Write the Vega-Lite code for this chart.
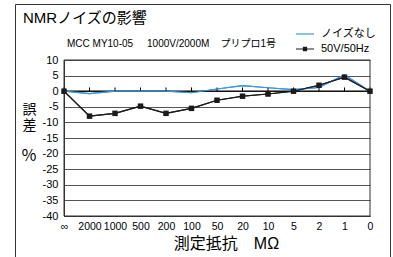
{
  "$schema": "https://vega.github.io/schema/vega-lite/v6.json",
  "width": 375,
  "height": 260,
  "autosize": {"type": "none"},
  "padding": {"left": 15, "top": 4, "right": 3, "bottom": 0},
  "background": "white",
  "config": {
    "view": {"stroke": "#333", "strokeWidth": 1},
    "font": "Liberation Sans, Noto Sans CJK JP",
    "axis": {"labelFont": "Liberation Sans, Noto Sans CJK JP", "titleFont": "Liberation Sans, Noto Sans CJK JP"},
    "legend": {"labelFont": "Liberation Sans, Noto Sans CJK JP"}
  },
  "title": {
    "text": "NMRノイズの影響",
    "anchor": "start",
    "frame": "group",
    "offset": -22,
    "dx": 8,
    "fontSize": 15,
    "fontWeight": "normal",
    "color": "black",
    "font": "Liberation Sans, Noto Sans CJK JP"
  },
  "datasets": {
    "main": [
      {"R": "∞", "series": "ノイズなし", "v": 0},
      {"R": "2000", "series": "ノイズなし", "v": -0.8},
      {"R": "1000", "series": "ノイズなし", "v": 0},
      {"R": "500", "series": "ノイズなし", "v": 0},
      {"R": "200", "series": "ノイズなし", "v": 0},
      {"R": "100", "series": "ノイズなし", "v": -0.5},
      {"R": "50", "series": "ノイズなし", "v": 0.7},
      {"R": "20", "series": "ノイズなし", "v": 1.8},
      {"R": "10", "series": "ノイズなし", "v": 1.1},
      {"R": "5", "series": "ノイズなし", "v": 0.5},
      {"R": "2", "series": "ノイズなし", "v": 1.2},
      {"R": "1", "series": "ノイズなし", "v": 5.2},
      {"R": "0", "series": "ノイズなし", "v": 0},
      {"R": "∞", "series": "50V/50Hz", "v": 0},
      {"R": "2000", "series": "50V/50Hz", "v": -8.0},
      {"R": "1000", "series": "50V/50Hz", "v": -7.1},
      {"R": "500", "series": "50V/50Hz", "v": -4.8},
      {"R": "200", "series": "50V/50Hz", "v": -7.1},
      {"R": "100", "series": "50V/50Hz", "v": -5.5},
      {"R": "50", "series": "50V/50Hz", "v": -2.9},
      {"R": "20", "series": "50V/50Hz", "v": -1.6},
      {"R": "10", "series": "50V/50Hz", "v": -0.9},
      {"R": "5", "series": "50V/50Hz", "v": 0},
      {"R": "2", "series": "50V/50Hz", "v": 1.9},
      {"R": "1", "series": "50V/50Hz", "v": 4.5},
      {"R": "0", "series": "50V/50Hz", "v": 0}
    ],
    "sub": [{"t": "MCC MY10-05\u00a0\u00a0\u00a0\u00a0 1000V/2000M\u00a0\u00a0\u00a0 プリプロ1号"}],
    "pct": [{"t": "％"}]
  },
  "data": {"name": "main"},
  "layer": [
    {
      "mark": {"type": "line", "strokeWidth": 1.2},
      "encoding": {
        "x": {
          "field": "R",
          "type": "ordinal",
          "scale": {"type": "point", "padding": 0, "range": [49, 355], "domain": ["∞", "2000", "1000", "500", "200", "100", "50", "20", "10", "5", "2", "1", "0"]},
          "axis": {
            "orient": "bottom",
            "offset": -48,
            "labelAngle": 0,
            "labelFontSize": 10.5,
            "labelColor": "black",
            "labelPadding": 5,
            "ticks": false,
            "domainColor": "#333",
            "title": "測定抵抗　MΩ",
            "titleFontSize": 16,
            "titleFontWeight": "normal",
            "titleColor": "black",
            "titleX": 211,
            "titleY": 27,
            "titleBaseline": "middle"
          }
        },
        "y": {
          "field": "v",
          "type": "quantitative",
          "scale": {"domain": [-40, 10], "range": [212, 56], "nice": false, "zero": false},
          "axis": {
            "orient": "left",
            "offset": -49,
            "values": [10, 5, 0, -5, -10, -15, -20, -25, -30, -35, -40],
            "tickCount": 11,
            "labelExpr": "'' + datum.value",
            "grid": true,
            "gridColor": "#555",
            "gridOpacity": 1,
            "ticks": false,
            "labelFontSize": 11,
            "labelColor": "black",
            "labelPadding": 6,
            "domainColor": "#333",
            "title": ["誤", "差"],
            "titleAngle": 0,
            "titleFontSize": 14,
            "titleFontWeight": "normal",
            "titleColor": "black",
            "titleLineHeight": 16,
            "titleAlign": "center",
            "titleBaseline": "top",
            "titleX": -35,
            "titleY": 98
          }
        },
        "color": {
          "field": "series",
          "type": "nominal",
          "scale": {"domain": ["ノイズなし", "50V/50Hz"], "range": ["#3a96e0", "#1a1a1a"]},
          "legend": {
            "orient": "none",
            "legendX": 280,
            "legendY": 20,
            "title": null,
            "padding": 0,
            "symbolType": "stroke",
            "symbolSize": 324,
            "symbolStrokeWidth": 1.2,
            "rowPadding": 0,
            "labelFontSize": 11,
            "labelColor": "black",
            "labelOffset": 6,
            "encode": {
              "symbols": {
                "update": {
                  "shape": {"signal": "datum.value === '50V/50Hz' ? 'M-1,0H1M-0.17,-0.17H0.17V0.17H-0.17Z' : 'M-1,0H1'"},
                  "fill": {"signal": "datum.value === '50V/50Hz' ? '#1a1a1a' : 'transparent'"},
                  "stroke": {"signal": "datum.value === '50V/50Hz' ? '#1a1a1a' : '#3a96e0'"}
                }
              }
            }
          }
        },
        "order": {"field": "series", "sort": "descending"}
      }
    },
    {
      "data": {"values": [{"a": 1}]},
      "mark": {"type": "rect", "fill": null, "stroke": "#333", "strokeWidth": 1},
      "encoding": {
        "x": {"datum": "∞", "type": "ordinal"},
        "x2": {"datum": "0"},
        "y": {"datum": 10, "type": "quantitative"},
        "y2": {"datum": -40}
      }
    },
    {
      "data": {"values": [{"a": 1}]},
      "mark": {"type": "rule", "color": "black", "strokeWidth": 1.2},
      "encoding": {
        "x": {"datum": "∞", "type": "ordinal"},
        "x2": {"datum": "0"},
        "y": {"datum": 0, "type": "quantitative"}
      }
    },
    {
      "transform": [{"filter": "datum.series === 'ノイズなし'"}],
      "mark": {"type": "rule", "color": "black", "strokeWidth": 1},
      "encoding": {
        "x": {"field": "R", "type": "ordinal"},
        "y": {"datum": 0, "type": "quantitative"},
        "y2": {"datum": 1.2}
      }
    },
    {
      "transform": [{"filter": "datum.series === 'ノイズなし'"}],
      "mark": {"type": "line", "strokeWidth": 1.2, "color": "#3a96e0"},
      "encoding": {
        "x": {"field": "R", "type": "ordinal"},
        "y": {"field": "v", "type": "quantitative"}
      }
    },
    {
      "transform": [{"filter": "datum.series === '50V/50Hz'"}],
      "mark": {"type": "line", "strokeWidth": 1.1, "color": "#1a1a1a"},
      "encoding": {
        "x": {"field": "R", "type": "ordinal"},
        "y": {"field": "v", "type": "quantitative"}
      }
    },
    {
      "transform": [{"filter": "datum.series === '50V/50Hz'"}],
      "mark": {"type": "square", "color": "#1a1a1a", "size": 30, "opacity": 1, "filled": true},
      "encoding": {
        "x": {"field": "R", "type": "ordinal"},
        "y": {"field": "v", "type": "quantitative"}
      }
    },
    {
      "data": {"name": "sub"},
      "mark": {"type": "text", "align": "left", "baseline": "middle", "fontSize": 10, "dx": 3, "color": "black"},
      "encoding": {
        "x": {"datum": "∞", "type": "ordinal"},
        "y": {"datum": 15.2, "type": "quantitative"},
        "text": {"field": "t", "type": "nominal"}
      }
    },
    {
      "data": {"name": "pct"},
      "mark": {"type": "text", "align": "center", "baseline": "middle", "fontSize": 16, "dx": -35, "color": "black"},
      "encoding": {
        "x": {"datum": "∞", "type": "ordinal"},
        "y": {"datum": -20.8, "type": "quantitative"},
        "text": {"field": "t", "type": "nominal"}
      }
    }
  ]
}
